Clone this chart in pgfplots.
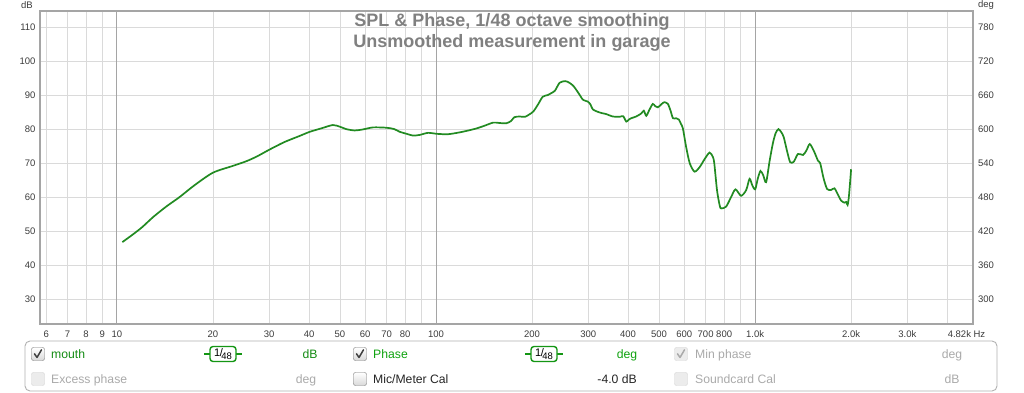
\documentclass[border=0pt]{standalone}
\usepackage{fontspec}
\setmainfont{Liberation Sans}
\usepackage{pgfplots}
\pgfplotsset{compat=1.18}
\definecolor{curve}{RGB}{34,139,34}
\definecolor{lgreen}{RGB}{20,140,20}
\definecolor{boxgreen}{RGB}{20,150,20}
\definecolor{gridc}{RGB}{218,218,218}
\definecolor{gridd}{RGB}{165,165,165}
\definecolor{ticktxt}{RGB}{60,60,60}
\definecolor{titlec}{RGB}{128,128,128}
\definecolor{dis}{RGB}{170,170,170}
\definecolor{frame}{RGB}{165,165,165}
\newcommand{\tickfont}{\fontsize{9.5}{10}\selectfont}
\newcommand{\legfont}{\fontsize{12.2}{13}\selectfont}
\newcommand{\boxon}[2]{\draw[rounded corners=2pt, draw=gray!90!black, top color=white, bottom color=gray!30] (#1-6.5,#2-6.5) rectangle (#1+6.5,#2+6.5);}
\newcommand{\boxoff}[2]{\draw[rounded corners=2pt, draw=gray!35, fill=gray!15] (#1-6.5,#2-6.5) rectangle (#1+6.5,#2+6.5);}
\newcommand{\chk}[3]{\draw[#3, line width=1.5pt, line cap=round, line join=round] (#1-3.5,#2+0.2) -- (#1-1,#2-3.5) -- (#1+3.5,#2+4.2);}
\newcommand{\smbox}[2]{%
  \draw[boxgreen, line width=1.4pt] (#1-19,#2) -- (#1-13,#2) (#1+13,#2) -- (#1+19,#2);
  \draw[boxgreen, line width=1.4pt, rounded corners=3pt, fill=white] (#1-13,#2-7.5) rectangle (#1+13,#2+7.5);
  \node[inner sep=0pt] at (#1,#2) {\fontsize{11}{11}\selectfont 1\kern-0.5pt/\kern-1.5pt\raisebox{-2.5pt}{\fontsize{9.5}{9.5}\selectfont 48}};}
\begin{document}
\begin{tikzpicture}[x=1pt,y=1pt]
\useasboundingbox (0,0) rectangle (1024,393);
\fill[white] (0,0) rectangle (1024,393);
\begin{axis}[
  at={(40pt,69pt)}, anchor=south west,
  scale only axis, width=933pt, height=313pt,
  xmode=log, xmin=5.74, xmax=4820, ymin=22.74, ymax=114.70,
  xtick={6,7,8,9,10,20,30,40,50,60,70,80,90,100,200,300,400,500,600,700,800,900,1000,2000,3000,4000},
  xticklabels={6,7,8,9,10,20,30,40,50,60,70,80,,100,200,300,400,500,600,700,800,,1.0k,2.0k,3.0k,},
  ytick={30,40,50,60,70,80,90,100,110},
  yticklabels={30,40,50,60,70,80,90,100,110},
  xmajorgrids, ymajorgrids,
  major grid style={gridc, line width=0.9pt},
  major tick length=0pt,
  axis line style={draw=frame, line width=1.5pt},
  tick label style={font=\tickfont, text=ticktxt},
  xticklabel style={anchor=base, yshift=-13.5pt},
  yticklabel style={anchor=east, xshift=-1pt},
  clip=true,
]
\draw[gridd, line width=0.9pt] (axis cs:10,22.74) -- (axis cs:10,114.70);
\draw[gridd, line width=0.9pt] (axis cs:100,22.74) -- (axis cs:100,114.70);
\draw[gridd, line width=0.9pt] (axis cs:1000,22.74) -- (axis cs:1000,114.70);
\addplot[curve, line width=1.7pt, smooth, tension=0.45] coordinates {
(10.4,46.8) (11.2,49.0) (12.0,51.2) (13.0,54.2) (14.3,57.3) (15.7,60.0) (17.5,63.5)
(20.0,67.2) (23.1,69.2) (25.5,70.6) (27.5,72.0) (30.1,74.0) (33.5,76.2) (37.4,78.0)
(40.2,79.2) (44.0,80.3) (47.5,81.2) (50.0,80.7) (52.3,80.0) (55.6,79.6) (59.0,79.9)
(63.5,80.5) (70.0,80.4) (74.0,80.0) (77.0,79.2) (81.0,78.6) (84.7,78.1) (89.0,78.3)
(94.4,78.9) (101,78.6) (109,78.5) (118,79.0) (125,79.5) (134,80.2) (142,81.0)
(151,81.9) (158,81.8) (166,81.7) (172,82.4) (176,83.5) (183,83.7) (190,83.6)
(196,84.3) (202,85.2) (209,87.3) (216,89.5) (224,90.0) (230,90.6) (236,91.3)
(244,93.6) (254,94.1) (262,93.6) (270,92.6) (280,90.5) (289,88.6) (299,88.1)
(305,87.2) (310,85.8) (321,85.1) (331,84.7) (342,84.4) (358,83.7) (376,83.6)
(386,83.8) (395,82.2) (402,82.8) (409,83.2) (424,83.7) (440,84.6) (448,85.4)
(456,83.9) (466,85.6) (478,87.4) (487,86.7) (496,86.4) (510,87.4) (520,87.9)
(533,87.4) (543,85.5) (553,83.2) (566,83.2) (577,82.8) (586,81.5) (594,80.2)
(608,74.8) (624,70.0) (646,67.5) (670,68.8) (695,71.2) (720,73.1) (737,71.9)
(745,70.0) (760,62.0) (775,57.5) (783,56.7) (811,57.2) (840,59.9) (868,62.3)
(904,60.4) (938,62.1) (961,65.4) (980,63.5) (1001,62.3) (1020,65.5) (1040,67.7)
(1060,66.5) (1083,64.4) (1110,70.5) (1137,75.8) (1160,78.8) (1184,80.0) (1210,79.0)
(1230,77.6) (1260,73.5) (1288,70.3) (1322,70.4) (1363,72.7) (1414,72.4) (1450,73.8)
(1484,75.6) (1530,73.5) (1575,70.7) (1600,70.0) (1640,65.5) (1682,62.4) (1730,62.1)
(1773,62.6) (1820,60.7) (1860,59.0) (1905,58.4) (1930,58.6) (1950,57.7) (1970,60.5)
(2000,68.2)
};
\end{axis}
\begin{axis}[
  at={(40pt,69pt)}, anchor=south west,
  scale only axis, width=933pt, height=313pt,
  xmode=log, xmin=5.74, xmax=4820, ymin=256.44, ymax=808.2,
  axis x line=none, axis y line*=right,
  y axis line style={draw=none},
  ytick={300,360,420,480,540,600,660,720,780},
  yticklabels={300,360,420,480,540,600,660,720,780},
  major tick length=0pt,
  tick label style={font=\tickfont, text=ticktxt},
  yticklabel style={anchor=west, xshift=1.5pt},
]
\end{axis}
% right-end frequency label
\node[font=\tickfont, text=ticktxt, anchor=base, inner sep=0pt] at (966.5,55.5) {4.82k Hz};
% axis unit labels
\node[font=\tickfont, text=ticktxt] at (27,388) {dB};
\node[font=\tickfont, text=ticktxt] at (986,388) {deg};
% title
\node[font=\fontsize{18}{19}\bfseries, text=titlec, anchor=base] at (512,366) {SPL \& Phase, 1/48 octave smoothing};
\node[font=\fontsize{18}{19}\bfseries, text=titlec, anchor=base] at (512,345) {Unsmoothed measurement in garage};
% legend panel
\draw[rounded corners=5pt, draw=gray!60, line width=0.9pt] (25,2) rectangle (997,52);
% row 1
\boxon{38}{39}\chk{38}{39}{black!75}
\node[font=\legfont, text=lgreen, anchor=base west, inner sep=0pt] at (51,34.6) {mouth};
\smbox{223}{39}
\node[font=\legfont, text=lgreen, anchor=base, inner sep=0pt] at (310,34.6) {dB};
\boxon{360}{39}\chk{360}{39}{black!75}
\node[font=\legfont, text=lgreen!80!green, anchor=base west, inner sep=0pt] at (373,34.6) {Phase};
\smbox{544}{39}
\node[font=\legfont, text=lgreen!80!green, anchor=base, inner sep=0pt] at (627,34.6) {deg};
\boxoff{681}{39}\chk{681}{39}{dis}
\node[font=\legfont, text=dis, anchor=base west, inner sep=0pt] at (695,34.6) {Min phase};
\node[font=\legfont, text=dis, anchor=base, inner sep=0pt] at (952,34.6) {deg};
% row 2
\boxoff{38}{14}
\node[font=\legfont, text=dis, anchor=base west, inner sep=0pt] at (51,9.6) {Excess phase};
\node[font=\legfont, text=dis, anchor=base, inner sep=0pt] at (306,9.6) {deg};
\boxon{360}{14}
\node[font=\legfont, text=black!85, anchor=base west, inner sep=0pt] at (373,9.6) {Mic/Meter Cal};
\node[font=\legfont, text=black!85, anchor=base east, inner sep=0pt] at (637,9.6) {-4.0 dB};
\boxoff{681}{14}
\node[font=\legfont, text=dis, anchor=base west, inner sep=0pt] at (695,9.6) {Soundcard Cal};
\node[font=\legfont, text=dis, anchor=base, inner sep=0pt] at (952,9.6) {dB};
\end{tikzpicture}
\end{document}
